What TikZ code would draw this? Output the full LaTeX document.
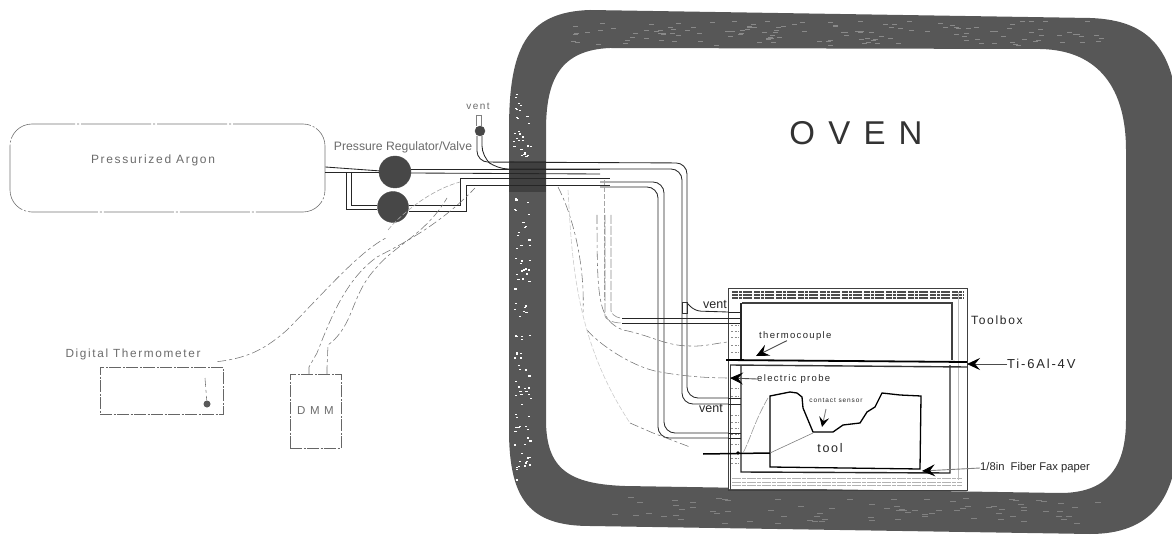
\documentclass[tikz,border=0pt]{standalone}
\usepackage{fontspec}
\setmainfont{Liberation Sans}
\newfontfamily\spaced[LetterSpace=14]{Liberation Sans}
\newfontfamily\wide[LetterSpace=40]{Liberation Sans}
\usetikzlibrary{calc,arrows.meta}
\definecolor{wallgray}{gray}{0.34}
\definecolor{labelgray}{gray}{0.42}
\tikzset{
    pipe/.style={draw=black!85, line width=0.85pt, rounded corners=11pt},
    wire/.style={draw=black!55, line width=0.55pt, dash pattern=on 9pt off 3pt on 3pt off 3pt},
    faintwire/.style={draw=black!35, line width=0.6pt, dash pattern=on 5pt off 2pt},
    valve/.style={circle, draw=black!70, fill=black!72, inner sep=0pt},
    label/.style={text=labelgray, inner sep=0pt, font=\spaced\fontsize{11.5}{13}\selectfont},
    note/.style={text=black!85, inner sep=0pt, font=\spaced\fontsize{9.5}{11}\selectfont},
    pointer/.style={draw=black!70, line width=0.9pt, -{Stealth[length=13pt,width=12pt,inset=5pt,color=black]}},
    dashbox/.style={draw=black!60, line width=0.6pt, dash pattern=on 12pt off 1.5pt on 2pt off 1.5pt},
}

\begin{document}
\begin{tikzpicture}[x=1pt, y=-1pt]
    \clip (0,0) rectangle (1172,537);
    % oven wall
    \fill[wallgray, even odd rule]
        (509,300) -- (509,130) .. controls (509,50) and (525,12) .. (590,10)
        -- (1090,18) .. controls (1150,20) and (1178,50) .. (1178,130)
        -- (1178,430) .. controls (1178,500) and (1150,534) .. (1090,534)
        -- (590,526) .. controls (530,526) and (509,500) .. (509,430) -- cycle
        (546,300) -- (546,130) .. controls (546,80) and (560,50) .. (610,48)
        -- (1040,49) .. controls (1100,50) and (1126,90) .. (1126,150)
        -- (1126,420) .. controls (1126,470) and (1105,493) .. (1060,493)
        -- (625,486) .. controls (570,484) and (546,470) .. (546,420) -- cycle;
    \pgfmathsetseed{7}
    \foreach \i in {1,...,130} {
        \fill[white] ({513+rnd*17},{90+rnd*390}) rectangle ++(2.2,1.2);
    }
    \foreach \i in {1,...,140} {
        \fill[white!30!wallgray] ({570+rnd*530},{21+rnd*24}) rectangle ++(5,0.8);
    }
    \foreach \i in {1,...,80} {
        \fill[white!25!wallgray] ({600+rnd*500},{497+rnd*26}) rectangle ++(6,0.8);
    }
    \fill[black!75] (509,161) rectangle (546,192);

    % argon tank
    \node[draw=black!55, line width=0.6pt, dash pattern=on 70pt off 2pt on 2pt off 2pt,
        rounded corners=22pt, minimum width=315pt, minimum height=88pt, inner sep=0pt] (argon) at (167.5,168) {};
    \node[label, font=\spaced\fontsize{12}{14}\selectfont] (argonlabel) at (153,160) {Pressurized Argon};

    % valves
    \node[valve, minimum size=32pt] (reg) at (395,172) {};
    \node[valve, minimum size=31pt] (val) at (393,207) {};
    \node[valve, minimum size=10pt] (ventvalve) at (480,131) {};
    \node[text=labelgray, inner sep=0pt, font=\fontsize{12.2}{14}\selectfont] (reglabel) at (403,147) {Pressure Regulator/Valve};
    \node[label, font=\spaced\fontsize{10}{12}\selectfont] (ventlabel) at (478,106) {vent};

    % pipes on the outside
    \draw[pipe, rounded corners=0pt] (argon.east |- 0,167) -- (reg);
    \draw[pipe, rounded corners=0pt] (argon.east |- 0,172) -- (reg);
    \draw[pipe, rounded corners=0pt] (346,172) -- (346,209) -- (val.west |- 0,209);
    \draw[pipe, rounded corners=0pt] (351,172) -- (351,205) -- (val.west |- 0,205);
    \draw[pipe, rounded corners=0pt] (val.east |- 0,205) -- (460,205) -- (460,178) -- (610,178);
    \draw[pipe, rounded corners=0pt] (val.east |- 0,211) -- (466,211) -- (466,185) -- (610,185);
    \draw[pipe, rounded corners=0pt] (reg.east |- 0,169) -- (600,169);
    \draw[pipe, rounded corners=0pt] (reg.east |- 0,173) -- (600,174);
    \draw[line width=0.8pt, draw=black!50] (476,115) -- (476,126);
    \draw[line width=0.8pt, draw=black!50] (481,115) -- (481,126);
    \draw[line width=0.8pt, draw=black!50] (476,115) -- (481,115);

    % vent line through the wall
    \draw[pipe] (477,136) -- (477,162) -- (687,163) -- (687,398) -- (728,398);
    \draw[pipe] (482,136) -- (482,157) -- (497,169) -- (682,169) -- (682,404) -- (728,404);
    % second line
    \draw[pipe] (600,182) -- (664,182) -- (664,433) -- (728,433);
    \draw[pipe] (600,187) -- (658,187) -- (658,438) -- (728,438);
    % branches to upper side of the box
    \draw[pipe, rounded corners=6pt] (687,303) -- (695,311) -- (728,312);
    \draw[line width=0.6pt, draw=black!80] (682,302) rectangle (687,313);
    \draw[faintwire] (604,180) -- (604,300);
    \draw[pipe, draw=black!45, line width=0.6pt, dash pattern=on 9pt off 2pt] (611,215) -- (611,300) .. controls (611,312) and (614,318) .. (622,318);
    \draw[pipe, draw=black!45, line width=0.6pt, dash pattern=on 9pt off 2pt] (605,215) -- (605,305) .. controls (605,318) and (610,323) .. (622,323);
    \draw[black!85, line width=0.85pt] (622,318) -- (728,318);
    \draw[black!85, line width=0.85pt] (622,323) -- (728,323);

    % wires in the oven
    \draw[wire] (597,215) .. controls (597,300) and (598,320) .. (623,330)
        .. controls (650,335) and (665,346) .. (690,346) .. controls (705,347) and (720,342) .. (730,342);
    \draw[faintwire] (730,342) .. controls (740,342) and (745,350) .. (752,356);
    \draw[wire] (558,187) .. controls (575,220) and (585,270) .. (583,312);
    \draw[wire] (587,330) .. controls (600,345) and (630,365) .. (655,371)
        .. controls (680,376) and (705,378) .. (730,378);
    \draw[faintwire, draw=black!20] (568,190) .. controls (572,260) and (575,340) .. (630,423);
    \draw[wire] (630,423) -- (653,433) -- (690,447);

    % toolbox
    \draw[draw=black!75, line width=1pt] (728,288) rectangle (967,490);
    \fill[white] (729,289) rectangle (966,489);
    \foreach \y in {292,295,298} {
        \draw[black!70, line width=1.1pt, dash pattern=on 6pt off 1pt on 3pt off 1pt on 9pt off 2pt] (732,\y) -- (964,\y);
    }
    \foreach \y in {478,482,485} {
        \draw[black!30, line width=1pt, dash pattern=on 9pt off 1pt on 4pt off 1pt] (732,\y) -- (962,\y);
    }
    \foreach \y in {325,331,337,345,352,388,396,415,422,428,434,444,458,463} {
        \draw[black!45, line width=0.8pt, dash pattern=on 2pt off 1.5pt] (731,\y) -- (739,\y);
    }
    \draw[black!25, line width=0.6pt] (958,292) -- (958,480);
    \draw[black!75, line width=1.3pt] (742,303) -- (952,303) -- (952,360);
    \draw[black!85, line width=1.3pt] (741,303) -- (741,360);
    \draw[black!85, line width=1.4pt] (741,365) -- (741,472) -- (950,473) -- (950,365);
    \draw[black!75, line width=1pt] (728,288) -- (728,360);
    \draw[black!75, line width=1pt] (730,365) -- (730,490);

    % pipe ends over the toolbox wall
    \foreach \y in {312,318,323,398,404,433,438} {
        \draw[black!85, line width=1pt] (728,\y) -- (741,\y);
    }

    % rod and tool
    \draw[black, line width=1.8pt] (726,360) -- (967,362);
    \draw[black!80, line width=1.4pt] (730,365) -- (967,367);
    \draw[black, line width=1.3pt] (770,396) -- (790,392) -- (797,393) -- (802,397) -- (803,408)
        -- (813,432) -- (833,432) -- (843,425) -- (860,423) -- (867,412) -- (875,407)
        -- (882,393) -- (900,395) -- (921,396) -- (920,469) -- (770,467) -- cycle;
    \draw[black, line width=1.5pt] (703,454) -- (770,453);
    \fill[black] (738,453) circle (1.8pt);
    \draw[black!50, line width=0.6pt] (770,453) -- (813,433);
    \draw[black!40, line width=0.6pt, dash pattern=on 9pt off 1.5pt] (743,453)
        .. controls (750,440) and (755,420) .. (768,398);

    % labels
    \node[inner sep=0pt, text=black!80, font=\wide\fontsize{33}{36}\selectfont] (ovenlabel) at (856,133) {OVEN};
    \node[note, font=\spaced\fontsize{12}{14}\selectfont, anchor=west] (boxlabel) at (971,320) {Toolbox};
    \node[note, font=\spaced\fontsize{13}{15}\selectfont, anchor=west] (rodlabel) at (1007,364) {Ti-6Al-4V};
    \node[note, anchor=west] (tclabel) at (759,336) {thermocouple};
    \node[note, anchor=west] (probelabel) at (757,379) {electric probe};
    \node[note, font=\spaced\fontsize{6.5}{8}\selectfont] (sensorlabel) at (836,400) {contact sensor};
    \node[note, font=\spaced\fontsize{12.5}{14}\selectfont] (toollabel) at (830,448) {tool};
    \node[text=black!85, inner sep=0pt, anchor=west, font=\fontsize{11.2}{13}\selectfont] (paperlabel) at (980,468) {1/8in\ \ Fiber Fax paper};
    \node[inner sep=0pt, text=black!85, font=\fontsize{12.5}{14}\selectfont, anchor=east] (ventup) at (727,305) {vent};
    \node[inner sep=0pt, text=black!85, font=\fontsize{12.5}{14}\selectfont, anchor=east] (ventlow) at (723,409) {vent};

    % pointers
    \draw[pointer] (rodlabel.west) -- (967,364);
    \draw[pointer] (tclabel.south -| 787,344) -- (756,356);
    \draw[pointer] (probelabel.west) -- (730,378);
    \draw[pointer, draw=black!50, -{Stealth[length=10pt,width=10pt,inset=4pt,color=black]}] (826,409) -- (822,427);
    \draw[pointer, draw=black!50] (paperlabel.west) -- (922,471);

    % instruments
    \node[dashbox, minimum width=123pt, minimum height=47pt, inner sep=0pt] (therm) at (161.5,390.5) {};
    \node[label, font=\spaced\fontsize{11.8}{13}\selectfont] (thermlabel) at (133,354) {Digital Thermometer};
    \node[circle, fill=black!65, inner sep=0pt, minimum size=7pt] (plug) at (207,404) {};
    \draw[wire] (205,378) -- (plug);
    \node[dashbox, minimum width=51pt, minimum height=74pt, inner sep=0pt, text=labelgray,
        font=\wide\fontsize{11.5}{13}\selectfont] (dmm) at (315.5,411) {DMM};
    \coordinate (dmmA) at (309,374);
    \coordinate (dmmB) at (327,374);

    % wires on the outside
    \draw[wire] (therm.north east) ++(-6,-5) .. controls (245,358) and (262,352) .. (287,330)
        .. controls (320,297) and (360,250) .. (388,237);
    \draw[faintwire] (388,230) .. controls (400,215) and (430,190) .. (460,182);
    \draw[wire] (dmmA) -- (309,367) -- (317,353) .. controls (330,320) and (345,280) .. (377,257)
        .. controls (400,245) and (440,225) .. (475,188);
    \draw[wire] (dmmB) -- (327,367) -- (328,345) .. controls (355,325) and (350,295) .. (377,267)
        .. controls (395,245) and (425,235) .. (447,198);
\end{tikzpicture}
\end{document}
